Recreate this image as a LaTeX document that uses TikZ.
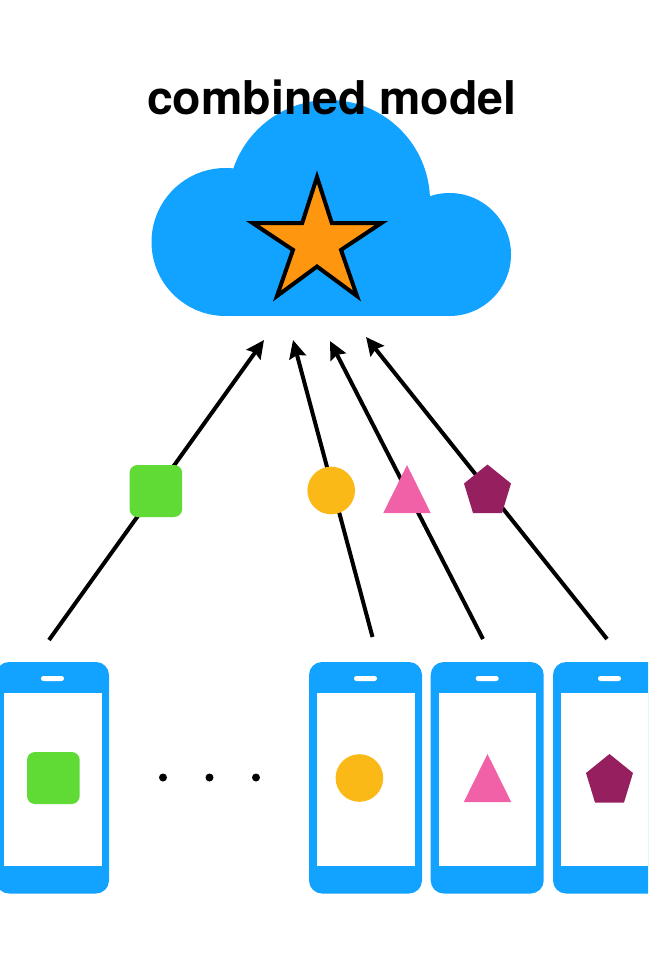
\documentclass[tikz,border=0pt]{standalone}
\usepackage{fontspec}
\setmainfont{TeX Gyre Heros}
\usetikzlibrary{arrows.meta}
\definecolor{skyb}{HTML}{12A2FF}
\definecolor{starc}{HTML}{FF9610}
\definecolor{greenc}{HTML}{60DB35}
\definecolor{yellowc}{HTML}{FBB917}
\definecolor{pinkc}{HTML}{F161A8}
\definecolor{purplec}{HTML}{96205F}
\tikzset{
  flow/.style={line width=4pt,-{Stealth[length=18pt,width=17pt,inset=2.5pt]}},
  phonebody/.style={fill=skyb,rounded corners=13pt},
  phonescreen/.style={fill=white},
  phonespeaker/.style={fill=white,rounded corners=2.4pt},
  titletext/.style={anchor=base,inner sep=0pt,font=\fontsize{46.5}{50}\selectfont\bfseries},
}
\newcommand{\phoneat}[1]{%
  \fill[phonebody] (#1,662) rectangle ++(113,231.5);
  \fill[phonescreen] (#1+8,693) rectangle ++(97.5,173);
  \fill[phonespeaker] (#1+45,676) rectangle ++(23,5);
}
\newcommand{\squareat}[2]{\fill[greenc,rounded corners=8pt] (#1,#2) rectangle ++(52.7,52);}
\newcommand{\circleat}[2]{\fill[yellowc] (#1,#2) circle (23.8);}
\newcommand{\triat}[2]{\fill[pinkc] (#1,#2) -- ++(23.7,48) -- ++(-47.4,0) -- cycle;}
\newcommand{\pentat}[2]{\fill[purplec] (#1,#2) -- ++(23.5,19) -- ++(-9,29.5) -- ++(-29,0) -- ++(-9,-29.5) -- cycle;}
\begin{document}
\begin{tikzpicture}[x=1pt,y=-1pt]
\useasboundingbox (0,0) rectangle (648,971);
\clip (0,0) rectangle (648,971);
\fill[white] (0,0) rectangle (648,971);
% cloud
\fill[skyb] (225.5,242) circle (74);
\fill[skyb] (329,201) circle (101);
\fill[skyb] (449.5,254.5) circle (61.5);
\fill[skyb] (225.5,242) rectangle (450,316);
% title
\node[titletext] (title) at (331.8,114.5) {combined model};
% star
\filldraw[fill=starc,draw=black,line width=4pt,miter limit=10]
  (317,177)
  -- (317+14.8,242.5-19.5) -- (317+64.5,242.5-19.5)
  -- (317+24,242.5+7.4) -- (317+40,242.5+53.5)
  -- (317,242.5+24) -- (317-40,242.5+53.5)
  -- (317-24,242.5+7.4) -- (317-64.5,242.5-19.5)
  -- (317-14.8,242.5-19.5) -- cycle;
% connectors
\coordinate (s1) at (49,640);   \coordinate (t1) at (264,340);
\coordinate (s2) at (372.5,637);\coordinate (t2) at (293,340);
\coordinate (s3) at (483,639);  \coordinate (t3) at (330,341);
\coordinate (s4) at (607,639);  \coordinate (t4) at (366,337);
\draw[flow] (s1) -- (t1);
\draw[flow] (s2) -- (t2);
\draw[flow] (s3) -- (t3);
\draw[flow] (s4) -- (t4);
% updates
\squareat{129.5}{465}
\circleat{331.2}{490.5}
\triat{407}{465}
\pentat{487.5}{464.5}
% phones
\phoneat{-4}
\phoneat{309}
\phoneat{430.7}
\phoneat{553}
\squareat{27}{752}
\circleat{359.4}{778}
\triat{487.5}{754}
\pentat{609.5}{754}
% dots
\foreach \px in {163,209.5,256} \fill[black] (\px,777.5) circle (4);
\end{tikzpicture}
\end{document}
